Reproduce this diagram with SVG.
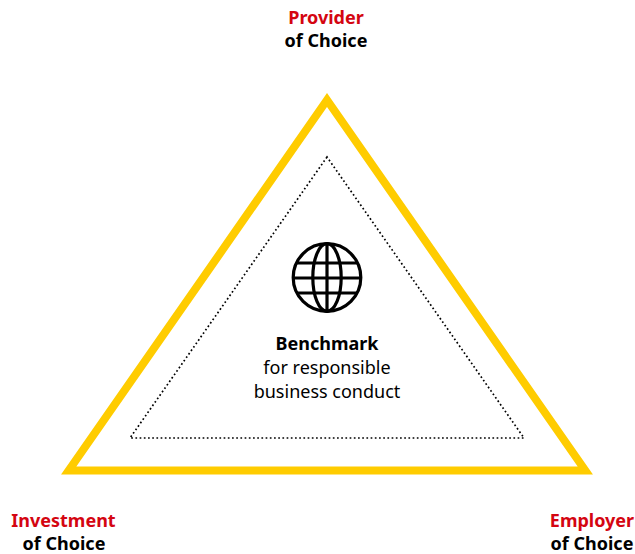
<svg xmlns="http://www.w3.org/2000/svg" width="635" height="554" viewBox="0 0 635 554">
  <style>
    .lbl { font-family: "Noto Sans", "Open Sans", sans-serif; font-size: 18px; font-weight: bold; text-anchor: middle; }
    .red { fill: #D40511; }
    .blk { fill: #000000; }
    .body { font-family: "Noto Sans", "Open Sans", sans-serif; font-size: 18px; text-anchor: middle; fill: #000; }
    .globe { fill: none; stroke: #000; stroke-width: 3.2; }
  </style>
  <rect width="635" height="554" fill="#ffffff"/>
  <g id="connectors">
    <polygon id="outer-triangle" points="327,100 68.7,470.5 585.3,470.5" fill="none" stroke="#FFCC00" stroke-width="8" stroke-linejoin="miter" stroke-miterlimit="10"/>
    <polygon id="inner-triangle" points="327,157 130,438 524,438" fill="none" stroke="#000" stroke-width="1.7" stroke-dasharray="1.7 2.5" stroke-linecap="butt"/>
  </g>
  <g id="node-provider">
    <text class="lbl red" x="326" y="24">Provider</text>
    <text class="lbl blk" x="326" y="47">of Choice</text>
  </g>
  <g id="node-investment">
    <text class="lbl red" x="63.5" y="527">Investment</text>
    <text class="lbl blk" x="64" y="550">of Choice</text>
  </g>
  <g id="node-employer">
    <text class="lbl red" x="592" y="527">Employer</text>
    <text class="lbl blk" x="592" y="550">of Choice</text>
  </g>
  <g id="node-benchmark">
    <g class="globe">
      <circle cx="327" cy="277.5" r="33.8"/>
      <ellipse cx="327" cy="277.5" rx="14.2" ry="33.8"/>
      <line x1="327" y1="243.7" x2="327" y2="311.3"/>
      <line x1="293.2" y1="278" x2="360.8" y2="278"/>
      <line x1="296.8" y1="263" x2="357.2" y2="263"/>
      <line x1="296.8" y1="293" x2="357.2" y2="293"/>
    </g>
    <text class="body" x="327" y="350" font-weight="bold">Benchmark</text>
    <text class="body" x="327" y="374">for responsible</text>
    <text class="body" x="327" y="398">business conduct</text>
  </g>
</svg>
